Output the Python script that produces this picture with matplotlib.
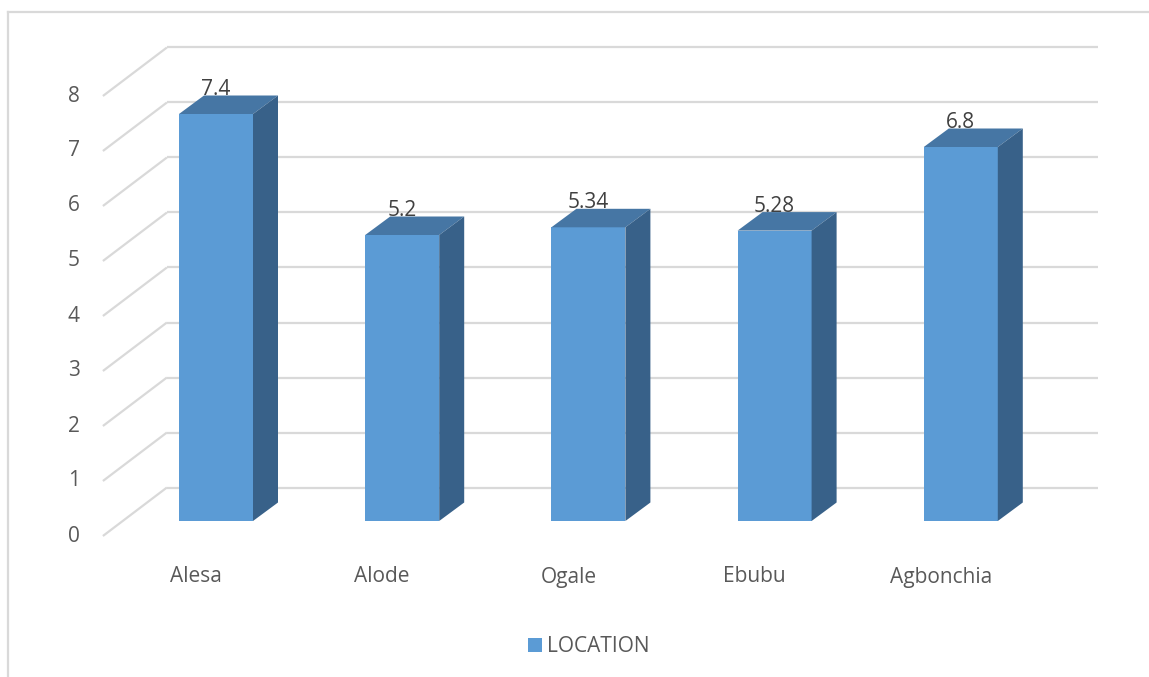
import matplotlib
matplotlib.use("Agg")
import matplotlib.pyplot as plt
from matplotlib.patches import Polygon, Rectangle
from matplotlib.lines import Line2D

categories = ["Alesa", "Alode", "Ogale", "Ebubu", "Agbonchia"]
values = [7.4, 5.2, 5.34, 5.28, 6.8]
value_labels = ["7.4", "5.2", "5.34", "5.28", "6.8"]
yticks = [0, 1, 2, 3, 4, 5, 6, 7, 8]
series_name = "LOCATION"

W, H = 1149, 677
fig = plt.figure(figsize=(W / 100, H / 100), dpi=100)
ax = fig.add_axes([0, 0, 1, 1])
ax.set_axis_off()

FONT = "Open Sans"
FS = 15

# pixel mapping: x_px = X0 + SX * x ; y_px(top) = Y0 - SY * v
X0, SX = 216.0, 186.2
Y0, SY = 521.0, 55.0
ax.set_xlim(-X0 / SX, (W - X0) / SX)
ax.set_ylim((Y0 - H) / SY, Y0 / SY)

def dz(px_dx, px_dy):
    # convert pixel depth offset into data offset (px_dy positive = up)
    return px_dx / SX, px_dy / SY

bar_w = 74.0 / SX
bdx, bdy = dz(25, 18.5)      # bar depth
wdx, wdy = dz(44, 33.5)      # wall plane relative to bar front
fdx, fdy = dz(-20, -15)      # front edge of floor relative to bar front

front_c = "#5B9BD5"
top_c = "#4676A4"
side_c = "#386189"
grid_c = "#D9D9D9"

n = len(categories)
xl, xr = -0.5, n - 0.5

# back wall gridlines and left diagonal lines
for t in yticks:
    ax.plot([xl + wdx, xr + wdx], [t + wdy, t + wdy], color=grid_c, lw=1.6, zorder=1,
            solid_capstyle="butt")
    ax.plot([xl + fdx, xl + wdx], [t + fdy, t + wdy], color=grid_c, lw=1.6, zorder=1,
            solid_capstyle="butt")
    ax.text(xl + fdx - 23 / SX, t + fdy, str(t), ha="right", va="center",
            fontsize=FS, color="#595959", family=FONT)

# bars
for i, (v, lab) in enumerate(zip(values, value_labels)):
    x0, x1 = i - bar_w / 2, i + bar_w / 2
    ax.add_patch(Rectangle((x0, 0), bar_w, v, facecolor=front_c, edgecolor="none", zorder=3))
    ax.add_patch(Polygon([(x0, v), (x1, v), (x1 + bdx, v + bdy), (x0 + bdx, v + bdy)],
                         closed=True, facecolor=top_c, edgecolor="none", zorder=3))
    ax.add_patch(Polygon([(x1, 0), (x1 + bdx, bdy), (x1 + bdx, v + bdy), (x1, v)],
                         closed=True, facecolor=side_c, edgecolor="none", zorder=3))
    ax.text(i, v + bdy + 0.5 / SY, lab, ha="center", va="baseline", fontsize=FS,
            color="#404040", family=FONT, zorder=5)
    ax.text(i + fdx, -56 / SY, categories[i], ha="center", va="center", fontsize=FS,
            color="#595959", family=FONT)

# legend
lx = (535 - X0) / SX
ly = (Y0 - 645) / SY
ax.add_patch(Rectangle((lx - 7 / SX, ly - 7 / SY), 14 / SX, 14 / SY, facecolor=front_c,
                       edgecolor="none"))
ax.text(lx + 12 / SX, ly - 2 / SY, series_name, ha="left", va="center", fontsize=FS,
        color="#595959", family=FONT)

# chart border (top and left)
fig.add_artist(Line2D([8 / W, 1.0], [1 - 12 / H, 1 - 12 / H], color="#D9D9D9", lw=1.6,
                      transform=fig.transFigure))
fig.add_artist(Line2D([8 / W, 8 / W], [0, 1 - 12 / H], color="#D9D9D9", lw=1.6,
                      transform=fig.transFigure))

fig.savefig("out.png", dpi=100, facecolor="white")
